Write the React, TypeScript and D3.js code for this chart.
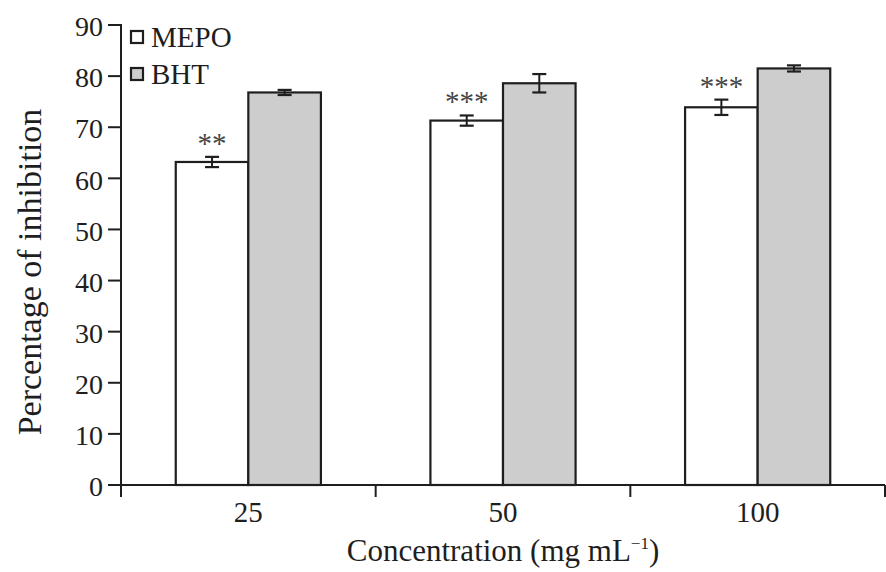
import React from "react";
import * as d3 from "d3";

const categories = ["25", "50", "100"];
const seriesNames = ["MEPO", "BHT"];
const mepoValues = [63.2, 71.3, 73.9];
const mepoErrors = [1.0, 1.0, 1.5];
const bhtValues = [76.8, 78.6, 81.5];
const bhtErrors = [0.5, 1.8, 0.6];
const mepoStars = ["**", "***", "***"];
const yTicks = [0, 10, 20, 30, 40, 50, 60, 70, 80, 90];

const W = 886;
const H = 572;
const left = 121;
const right = 885;
const top = 25;
const bottom = 485;
const font = "'Liberation Serif', 'Times New Roman', serif";
const ink = "#1e1e1e";

export default function App() {
  const x = d3.scaleBand<string>().domain(categories).range([left, right]).paddingInner(0.43).paddingOuter(0.215);
  const x1 = d3.scaleBand<string>().domain(seriesNames).range([0, x.bandwidth()]);
  const y = d3.scaleLinear().domain([0, 90]).range([bottom, top]);
  const step = x.step();
  const boundaries = [0, 1, 2, 3].map((i) => left + i * step);

  const series = [
    { name: "MEPO", values: mepoValues, errors: mepoErrors, fill: "#ffffff" },
    { name: "BHT", values: bhtValues, errors: bhtErrors, fill: "#cdcdcd" },
  ];

  return (
    <svg width={W} height={H} style={{ position: "absolute", left: 0, top: 0, background: "#fff" }}>
      {series.map((s) =>
        categories.map((c, i) => {
          const bx = (x(c) as number) + (x1(s.name) as number);
          const bw = x1.bandwidth();
          const v = s.values[i];
          const e = s.errors[i];
          const cx = bx + bw / 2;
          return (
            <g key={s.name + c}>
              <rect x={bx} y={y(v)} width={bw} height={bottom - y(v)} fill={s.fill} stroke={ink} strokeWidth={2.2} />
              <line x1={cx} x2={cx} y1={y(v + e)} y2={y(v - e)} stroke={ink} strokeWidth={2} />
              <line x1={cx - 7} x2={cx + 7} y1={y(v + e)} y2={y(v + e)} stroke={ink} strokeWidth={2.2} />
              <line x1={cx - 7} x2={cx + 7} y1={y(v - e)} y2={y(v - e)} stroke={ink} strokeWidth={2.2} />
            </g>
          );
        })
      )}
      {categories.map((c, i) => {
        const bx = (x(c) as number) + (x1("MEPO") as number) + x1.bandwidth() / 2;
        const v = mepoValues[i] + mepoErrors[i];
        return (
          <text key={"s" + c} x={bx} y={y(v) - 4} textAnchor="middle" fontFamily={font} fontSize={29} fill="#444">
            {mepoStars[i]}
          </text>
        );
      })}
      <line x1={left} x2={left} y1={top - 1} y2={bottom + 12} stroke={ink} strokeWidth={2} />
      {yTicks.map((t) => (
        <g key={"y" + t}>
          <line x1={left - 13} x2={left} y1={y(t)} y2={y(t)} stroke={ink} strokeWidth={2} />
          <text x={103} y={y(t)} dy="0.4em" textAnchor="end" fontFamily={font} fontSize={28} fill={ink}>
            {t}
          </text>
        </g>
      ))}
      <line x1={left} x2={right} y1={bottom} y2={bottom} stroke={ink} strokeWidth={2} />
      {boundaries.map((bx, i) => (
        <line key={"xb" + i} x1={bx} x2={bx} y1={bottom} y2={bottom + 12} stroke={ink} strokeWidth={2} />
      ))}
      {categories.map((c) => (
        <text key={"xl" + c} x={(x(c) as number) + x.bandwidth() / 2} y={522} textAnchor="middle" fontFamily={font} fontSize={29} fill={ink}>
          {c}
        </text>
      ))}
      <text x={503} y={561} textAnchor="middle" fontFamily={font} fontSize={31} fill={ink}>
        Concentration (mg mL
        <tspan dy={-12} fontSize={17}>−1</tspan>
        <tspan dy={12}>)</tspan>
      </text>
      <text transform={`translate(41,272) rotate(-90)`} textAnchor="middle" fontFamily={font} fontSize={34} fill={ink}>
        Percentage of inhibition
      </text>
      {series.map((s, i) => (
        <g key={"lg" + s.name}>
          <rect x={131} y={31 + i * 37} width={12} height={12} fill={s.fill} stroke={ink} strokeWidth={2.2} />
          <text x={151} y={47 + i * 37} fontFamily={font} fontSize={29} fill={ink}>
            {s.name}
          </text>
        </g>
      ))}
    </svg>
  );
}
